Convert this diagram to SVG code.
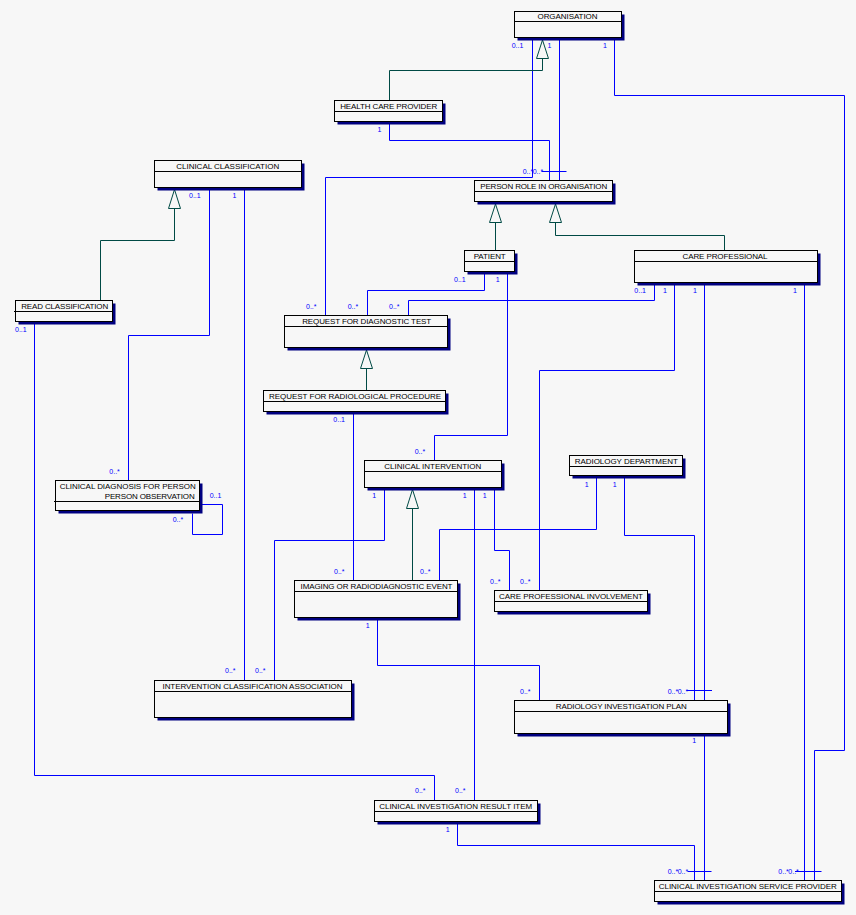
<svg xmlns="http://www.w3.org/2000/svg" width="856" height="915" viewBox="0 0 856 915">
<defs>
<style>
.bg{fill:#f7f7f7}
.sh{fill:#000080}
.box{fill:#f7f7f7;stroke:#000;stroke-width:1}
.div{stroke:#000;stroke-width:1}
.t{font-family:"Liberation Sans",Arial,sans-serif;font-size:8px;fill:#000;text-anchor:middle}
.te{font-family:"Liberation Sans",Arial,sans-serif;font-size:8px;fill:#000;text-anchor:end}
.a{fill:none;stroke:#0000ff;stroke-width:1}
.g{fill:none;stroke:#004a45;stroke-width:1}
.tri{fill:#f7f7f7;stroke:#004a45;stroke-width:1}
.l{font-family:"Liberation Sans",Arial,sans-serif;font-size:7px;fill:#0000ff}
</style>
</defs>
<rect class="bg" x="0" y="0" width="856" height="915"/>

<g id="connectors">
<!-- associations -->
<path class="a" d="M532.5,37.5 V177.5 H325.5 V315.5"/>
<path class="a" d="M559.5,37.5 V180.5"/>
<path class="a" d="M389.5,121.5 V140.5 H549.5 V180.5"/>
<path class="a" d="M614.5,37.5 V95.5 H844.5 V750.5 H814.5 V880.5"/>
<path class="a" d="M209.5,187.5 V335.5 H128.5 V480.5"/>
<path class="a" d="M244.5,187.5 V680.5"/>
<path class="a" d="M34.5,321.5 V775.5 H434.5 V800.5"/>
<path class="a" d="M484.5,271.5 V290.5 H367.5 V315.5"/>
<path class="a" d="M507.5,271.5 V435.5 H434.5 V460.5"/>
<path class="a" d="M654.5,282.5 V300.5 H408.5 V315.5"/>
<path class="a" d="M674.5,282.5 V370.5 H539.5 V590.5"/>
<path class="a" d="M704.5,282.5 V700.5"/>
<path class="a" d="M804.5,282.5 V880.5"/>
<path class="a" d="M353.5,411.5 V580.5"/>
<path class="a" d="M384.5,487.5 V540.5 H274.5 V680.5"/>
<path class="a" d="M474.5,487.5 V800.5"/>
<path class="a" d="M494.5,487.5 V550.5 H509.5 V590.5"/>
<path class="a" d="M596.5,475.5 V529.5 H439.5 V580.5"/>
<path class="a" d="M624.5,475.5 V535.5 H694.5 V700.5"/>
<path class="a" d="M377.5,617.5 V665.5 H539.5 V700.5"/>
<path class="a" d="M704.5,733.5 V880.5"/>
<path class="a" d="M457.5,821.5 V845.5 H694.5 V880.5"/>
<path class="a" d="M199.5,504.5 H222.5 V534.5 H192.5 V513.5"/>
<!-- ticks -->
<path class="a" d="M541.5,171.5 H566.5"/>
<path class="a" d="M686.5,690.5 H712"/>
<path class="a" d="M687.5,871.5 H711.5"/>
<path class="a" d="M795,871.5 H821.5"/>
<!-- generalizations -->
<path class="g" d="M542.5,58.5 V70.5 H389.5 V100.5"/>
<polygon class="tri" points="542.5,40 536.5,58.5 548.5,58.5"/>
<path class="g" d="M495.5,222.5 V250.5"/>
<polygon class="tri" points="495.5,204 489.5,222.5 501.5,222.5"/>
<path class="g" d="M555.5,222.5 V235.5 H724.5 V250.5"/>
<polygon class="tri" points="555.5,204 549.5,222.5 561.5,222.5"/>
<path class="g" d="M174.5,208.5 V240.5 H100.5 V300.5"/>
<polygon class="tri" points="174.5,189.5 168.5,208.5 180.5,208.5"/>
<path class="g" d="M366.5,368.5 V390.5"/>
<polygon class="tri" points="366.5,350 360.5,368.5 372.5,368.5"/>
<path class="g" d="M412.5,508.5 V580.5"/>
<polygon class="tri" points="412.5,489.5 406.5,508.5 418.5,508.5"/>
<!-- multiplicity labels -->
<text class="l" x="511.7" y="47.7">0..1</text>
<text class="l" x="547.5" y="47.7">1</text>
<text class="l" x="603" y="47.7">1</text>
<text class="l" x="377.5" y="132">1</text>
<text class="l" x="522.7" y="174">0..*</text>
<text class="l" x="532.7" y="174">0..*</text>
<text class="l" x="189" y="197.7">0..1</text>
<text class="l" x="232.5" y="197.7">1</text>
<text class="l" x="15" y="331.7">0..1</text>
<text class="l" x="306" y="308.7">0..*</text>
<text class="l" x="347.7" y="308.7">0..*</text>
<text class="l" x="389" y="308.7">0..*</text>
<text class="l" x="454" y="282">0..1</text>
<text class="l" x="495.8" y="282">1</text>
<text class="l" x="634.3" y="293">0..1</text>
<text class="l" x="663" y="293">1</text>
<text class="l" x="693" y="293">1</text>
<text class="l" x="793" y="293">1</text>
<text class="l" x="333.3" y="422">0..1</text>
<text class="l" x="109.3" y="474">0..*</text>
<text class="l" x="209.7" y="498">0..1</text>
<text class="l" x="172.7" y="522">0..*</text>
<text class="l" x="414.7" y="454">0..*</text>
<text class="l" x="372.3" y="498">1</text>
<text class="l" x="462.7" y="498">1</text>
<text class="l" x="482.7" y="498">1</text>
<text class="l" x="584.7" y="486.7">1</text>
<text class="l" x="612.7" y="486.7">1</text>
<text class="l" x="334" y="574">0..*</text>
<text class="l" x="420" y="574">0..*</text>
<text class="l" x="490" y="584">0..*</text>
<text class="l" x="520" y="584">0..*</text>
<text class="l" x="365.7" y="627.7">1</text>
<text class="l" x="225" y="672.7">0..*</text>
<text class="l" x="255" y="672.7">0..*</text>
<text class="l" x="520" y="694">0..*</text>
<text class="l" x="667.7" y="693.7">0..*</text>
<text class="l" x="677.7" y="693.7">0..*</text>
<text class="l" x="692.3" y="743">1</text>
<text class="l" x="415" y="793.3">0..*</text>
<text class="l" x="455" y="793.3">0..*</text>
<text class="l" x="445.7" y="832">1</text>
<text class="l" x="667.7" y="873.7">0..*</text>
<text class="l" x="677.7" y="873.7">0..*</text>
<text class="l" x="778.3" y="873.7">0..*</text>
<text class="l" x="788.3" y="873.7">0..*</text>
</g>

<g id="organisation">
<rect class="sh" x="517.5" y="14.5" width="107" height="26"/>
<rect class="box" x="514.5" y="11.5" width="107" height="26"/>
<line class="div" x1="514.5" y1="21.5" x2="621.5" y2="21.5"/>
<text class="t" x="567.5" y="19" textLength="60">ORGANISATION</text>
</g>

<g id="health-care-provider">
<rect class="sh" x="337.5" y="103.5" width="108" height="21"/>
<rect class="box" x="334.5" y="100.5" width="108" height="21"/>
<line class="div" x1="334.5" y1="111.5" x2="442.5" y2="111.5"/>
<text class="t" x="388.7" y="109" textLength="97">HEALTH CARE PROVIDER</text>
</g>

<g id="person-role-in-organisation">
<rect class="sh" x="477.5" y="183.5" width="138" height="21"/>
<rect class="box" x="474.5" y="180.5" width="138" height="21"/>
<line class="div" x1="474.5" y1="191.5" x2="612.5" y2="191.5"/>
<text class="t" x="543.7" y="189" textLength="127">PERSON ROLE IN ORGANISATION</text>
</g>

<g id="clinical-classification">
<rect class="sh" x="157.5" y="163.5" width="147" height="27"/>
<rect class="box" x="154.5" y="160.5" width="147" height="27"/>
<line class="div" x1="154.5" y1="171.5" x2="301.5" y2="171.5"/>
<text class="t" x="227.7" y="169" textLength="103">CLINICAL CLASSIFICATION</text>
</g>

<g id="read-classification">
<rect class="sh" x="18.5" y="303.5" width="97" height="21"/>
<rect class="box" x="15.5" y="300.5" width="97" height="21"/>
<line class="div" x1="14" y1="311.5" x2="112.5" y2="311.5"/>
<text class="t" x="64.7" y="309" textLength="87">READ CLASSIFICATION</text>
</g>

<g id="patient">
<rect class="sh" x="467.5" y="253.5" width="50" height="21"/>
<rect class="box" x="464.5" y="250.5" width="50" height="21"/>
<line class="div" x1="464.5" y1="261.5" x2="514.5" y2="261.5"/>
<text class="t" x="489.7" y="259" textLength="32">PATIENT</text>
</g>

<g id="care-professional">
<rect class="sh" x="637.5" y="253.5" width="183" height="32"/>
<rect class="box" x="634.5" y="250.5" width="183" height="32"/>
<line class="div" x1="634.5" y1="261.5" x2="817.5" y2="261.5"/>
<text class="t" x="725" y="259" textLength="85">CARE PROFESSIONAL</text>
</g>

<g id="request-for-diagnostic-test">
<rect class="sh" x="287.5" y="318.5" width="163" height="32"/>
<rect class="box" x="284.5" y="315.5" width="163" height="32"/>
<line class="div" x1="284.5" y1="326.5" x2="447.5" y2="326.5"/>
<text class="t" x="366.7" y="324" textLength="129">REQUEST FOR DIAGNOSTIC TEST</text>
</g>

<g id="request-for-radiological-procedure">
<rect class="sh" x="266.5" y="393.5" width="182" height="21"/>
<rect class="box" x="263.5" y="390.5" width="182" height="21"/>
<line class="div" x1="263.5" y1="401.5" x2="445.5" y2="401.5"/>
<text class="t" x="355" y="399" textLength="172">REQUEST FOR RADIOLOGICAL PROCEDURE</text>
</g>

<g id="clinical-intervention">
<rect class="sh" x="367.5" y="463.5" width="137" height="27"/>
<rect class="box" x="364.5" y="460.5" width="137" height="27"/>
<line class="div" x1="364.5" y1="471.5" x2="501.5" y2="471.5"/>
<text class="t" x="432.8" y="469" textLength="97">CLINICAL INTERVENTION</text>
</g>

<g id="radiology-department">
<rect class="sh" x="572.5" y="458.5" width="113" height="20"/>
<rect class="box" x="569.5" y="455.5" width="113" height="20"/>
<line class="div" x1="569.5" y1="466.5" x2="682.5" y2="466.5"/>
<text class="t" x="626.3" y="464" textLength="103">RADIOLOGY DEPARTMENT</text>
</g>

<g id="clinical-diagnosis-for-person">
<rect class="sh" x="58.5" y="483.5" width="144" height="30"/>
<rect class="box" x="55.5" y="480.5" width="144" height="30"/>
<line class="div" x1="54" y1="501.5" x2="199.5" y2="501.5"/>
<text class="te" x="195.7" y="488.7" textLength="136">CLINICAL DIAGNOSIS FOR PERSON</text>
<text class="te" x="194.7" y="499" textLength="90">PERSON OBSERVATION</text>
</g>

<g id="imaging-or-radiodiagnostic-event">
<rect class="sh" x="297.5" y="583.5" width="163" height="37"/>
<rect class="box" x="294.5" y="580.5" width="163" height="37"/>
<line class="div" x1="294.5" y1="591.5" x2="457.5" y2="591.5"/>
<text class="t" x="376.5" y="589" textLength="152">IMAGING OR RADIODIAGNOSTIC EVENT</text>
</g>

<g id="care-professional-involvement">
<rect class="sh" x="497.5" y="593.5" width="153" height="21"/>
<rect class="box" x="494.5" y="590.5" width="153" height="21"/>
<line class="div" x1="494.5" y1="601.5" x2="647.5" y2="601.5"/>
<text class="t" x="571" y="599" textLength="144">CARE PROFESSIONAL INVOLVEMENT</text>
</g>

<g id="intervention-classification-association">
<rect class="sh" x="157.5" y="683.5" width="197" height="37"/>
<rect class="box" x="154.5" y="680.5" width="197" height="37"/>
<line class="div" x1="154.5" y1="691.5" x2="351.5" y2="691.5"/>
<text class="t" x="252.5" y="689" textLength="180">INTERVENTION CLASSIFICATION ASSOCIATION</text>
</g>

<g id="radiology-investigation-plan">
<rect class="sh" x="517.5" y="703.5" width="213" height="33"/>
<rect class="box" x="514.5" y="700.5" width="213" height="33"/>
<line class="div" x1="514.5" y1="711.5" x2="727.5" y2="711.5"/>
<text class="t" x="621.3" y="709" textLength="131">RADIOLOGY INVESTIGATION PLAN</text>
</g>

<g id="clinical-investigation-result-item">
<rect class="sh" x="377.5" y="803.5" width="163" height="21"/>
<rect class="box" x="374.5" y="800.5" width="163" height="21"/>
<line class="div" x1="374.5" y1="811.5" x2="537.5" y2="811.5"/>
<text class="t" x="455.7" y="809" textLength="153">CLINICAL INVESTIGATION RESULT ITEM</text>
</g>

<g id="clinical-investigation-service-provider">
<rect class="sh" x="657.5" y="883.5" width="187" height="21"/>
<rect class="box" x="654.5" y="880.5" width="187" height="21"/>
<line class="div" x1="654.5" y1="891.5" x2="841.5" y2="891.5"/>
<text class="t" x="747.8" y="889" textLength="178">CLINICAL INVESTIGATION SERVICE PROVIDER</text>
</g>
</svg>
